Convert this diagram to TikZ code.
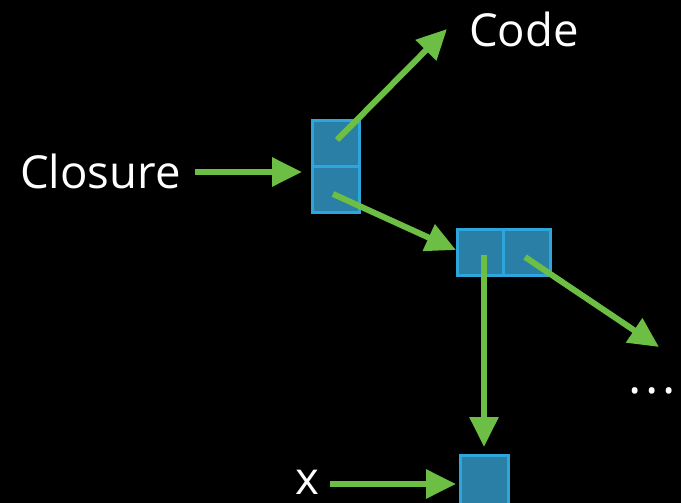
\documentclass[tikz,border=0pt]{standalone}
\usepackage{fontspec}
\setmainfont{Open Sans}
\usetikzlibrary{arrows.meta}
\definecolor{bg}{HTML}{000000}
\definecolor{cellfill}{HTML}{2A7FA6}
\definecolor{cellline}{HTML}{2EA6DC}
\definecolor{arrgreen}{HTML}{6CBF44}
\tikzset{
  cell/.style={draw=cellline, fill=cellfill, line width=3pt, rectangle, inner sep=0pt, outer sep=0pt},
  arr/.style={draw=arrgreen, line width=6pt, -{Triangle[length=30pt,width=28pt]}},
  lbl/.style={text=white, font=\fontsize{45.5}{48}\selectfont, inner sep=0pt, anchor=base west},
}
\begin{document}
\begin{tikzpicture}[x=1pt,y=-1pt]
\fill[bg] (0,0) rectangle (681,503);
\useasboundingbox (0,0) rectangle (681,503);
% labels
\node[lbl] (closure) at (20,189) {Closure};
\node[lbl] (code) at (469,47) {Code};
\node[lbl] (x) at (295,494) {x};
\node[text=white, font=\fontsize{50}{50}\selectfont, inner sep=0pt, anchor=base] (dots) at (652,393) {.\hspace{4pt}.\hspace{4pt}.};
\begin{scope}
\clip (0,0) rectangle (681,503);
% cells
\node[cell, minimum width=47pt, minimum height=46pt] (c1) at (336,143.5) {};
\node[cell, minimum width=47pt, minimum height=46pt] (c2) at (336,189.5) {};
\node[cell, minimum width=46pt, minimum height=46pt] (m1) at (480.5,252.5) {};
\node[cell, minimum width=47pt, minimum height=46pt] (m2) at (527,252.5) {};
\node[cell, minimum width=48pt, minimum height=52pt] (xb) at (484.5,481.5) {};
\end{scope}
% coordinates
\coordinate (s1) at (337,140);
\coordinate (t1) at (447,29);
\coordinate (s2) at (333,194);
\coordinate (t2) at (456,250);
\coordinate (s3) at (484,255);
\coordinate (t3) at (484,447);
\coordinate (s4) at (525,257);
\coordinate (t4) at (659,347);
\coordinate (s5) at (195,172);
\coordinate (t5) at (302,172);
\coordinate (s6) at (330,484);
\coordinate (t6) at (456,484);
% arrows
\draw[arr] (s5) -- (t5);
\draw[arr] (s1) -- (t1);
\draw[arr] (s2) -- (t2);
\draw[arr] (s3) -- (t3);
\draw[arr] (s4) -- (t4);
\draw[arr] (s6) -- (t6);
\end{tikzpicture}
\end{document}
